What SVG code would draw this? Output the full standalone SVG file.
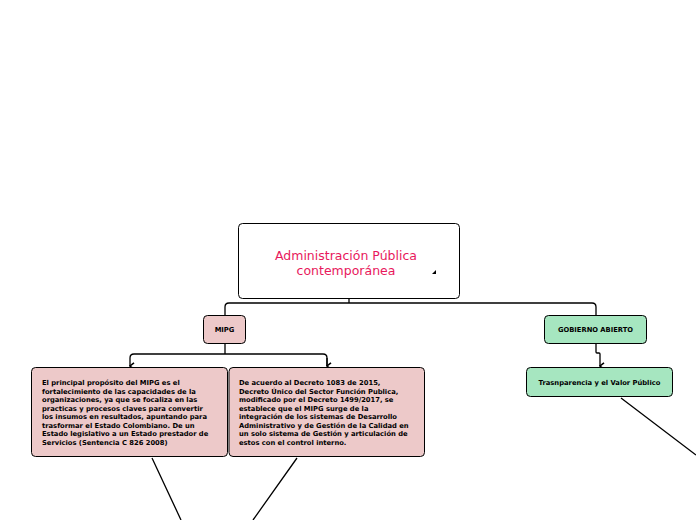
<svg xmlns="http://www.w3.org/2000/svg" width="696" height="520" viewBox="0 0 696 520">
<style>
.box{stroke:#000;stroke-width:1}
.pink{fill:#edc9c9}
.green{fill:#a6e6c0}
.t{font-family:"DejaVu Sans",Verdana,sans-serif;font-weight:bold;font-size:6.75px;fill:#000}
.c{fill:none;stroke:#000;stroke-width:1.3}
.title{font-family:"DejaVu Sans",Verdana,sans-serif;font-size:12.5px;fill:#e8185c}
</style>
<defs>
<marker id="ah" viewBox="0 0 10 10" refX="5" refY="9" markerWidth="8" markerHeight="8" orient="auto" markerUnits="userSpaceOnUse">
<path d="M1,4 L5,9 L9,4" fill="none" stroke="#000" stroke-width="2"/>
</marker>
</defs>
<rect width="696" height="520" fill="#fff"/>
<g id="connectors">
<path class="c" d="M349,298 V303 M229,303 H592 Q596,303 596,307 V315 M229,303 Q225,303 225,307 V315"/>
<path class="c" d="M225,343 V354 M134,354 H323 Q327,354 327,358 V366 M134,354 Q130,354 130,358 V366" marker-end="url(#ah)"/>
<path class="c" d="M327,358 V366" marker-end="url(#ah)"/>
<path class="c" d="M596,343 V352 Q596,353 597,353 H599 Q600,353 600,354 V366" marker-end="url(#ah)"/>
<path class="c" d="M152,458 L181,520 M297,458 L253,520 M621,398 L696,455"/>
</g>
<g id="root">
<rect class="box" x="238.5" y="223.5" width="221" height="75" rx="4" fill="#fff"/>
<text class="title" text-anchor="middle"><tspan x="346" y="260">Administración Pública</tspan><tspan x="346" y="275">contemporánea</tspan></text>
<path d="M432,274 L436,274 L436,270 Z" fill="#000"/>
</g>
<g id="mipg">
<rect class="box pink" x="203.5" y="315.5" width="42" height="28" rx="4"/>
<text class="t" x="224.5" y="332" text-anchor="middle">MIPG</text>
</g>
<g id="gobierno">
<rect class="box green" x="544.5" y="315.5" width="102" height="28" rx="4"/>
<text class="t" x="595.5" y="332" text-anchor="middle">GOBIERNO ABIERTO</text>
</g>
<g id="proposito">
<rect class="box pink" x="31.5" y="367.5" width="196" height="89" rx="4"/>
<text class="t"><tspan x="42" y="385">El principal propósito del MIPG es el</tspan><tspan x="42" y="393.5">fortalecimiento de las capacidades de la</tspan><tspan x="42" y="402">organizaciones, ya que se focaliza en las</tspan><tspan x="42" y="410.5">practicas y procesos claves para convertir</tspan><tspan x="42" y="419">los insumos en resultados, apuntando para</tspan><tspan x="42" y="427.5">trasformar el Estado Colombiano. De un</tspan><tspan x="42" y="436">Estado legislativo a un Estado prestador de</tspan><tspan x="42" y="444.5">Servicios (Sentencia C 826 2008)</tspan></text>
</g>
<g id="decreto">
<rect class="box pink" x="229" y="367.5" width="195.5" height="89" rx="4"/>
<text class="t"><tspan x="239" y="385">De acuerdo al Decreto 1083 de 2015,</tspan><tspan x="239" y="393.5">Decreto Único del Sector Función Publica,</tspan><tspan x="239" y="402">modificado por el Decreto 1499/2017, se</tspan><tspan x="239" y="410.5">establece que el MIPG surge de la</tspan><tspan x="239" y="419">integración de los sistemas de Desarrollo</tspan><tspan x="239" y="427.5">Administrativo y de Gestión de la Calidad en</tspan><tspan x="239" y="436">un solo sistema de Gestión y articulación de</tspan><tspan x="239" y="444.5">estos con el control interno.</tspan></text>
</g>
<g id="transparencia">
<rect class="box green" x="526.5" y="367.5" width="146" height="29" rx="4"/>
<text class="t" x="599.5" y="384.5" text-anchor="middle">Trasnparencia y el Valor Público</text>
</g>
</svg>
